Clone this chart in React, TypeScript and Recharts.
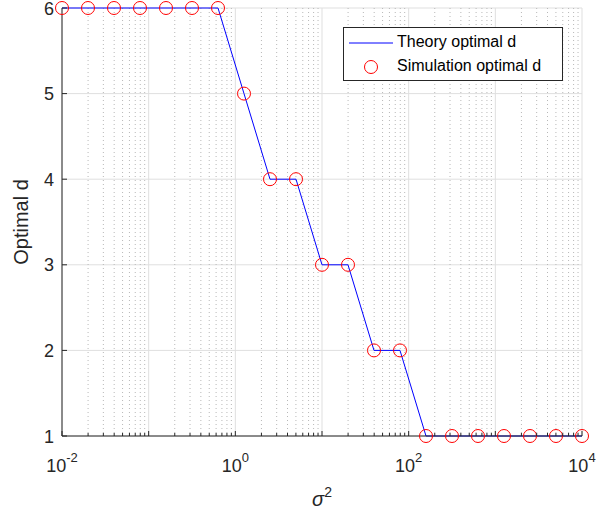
import React from 'react';
import { ComposedChart, Line, XAxis, YAxis, CartesianGrid } from 'recharts';

// sigma^2 sample points (logspace(-2, 4, 21))
const sigma2 = [
  0.01, 0.01995, 0.03981, 0.07943, 0.1585, 0.3162, 0.631, 1.259, 2.512, 5.012, 10,
  19.95, 39.81, 79.43, 158.5, 316.2, 631, 1259, 2512, 5012, 10000,
];
const theoryD = [6, 6, 6, 6, 6, 6, 6, 5, 4, 4, 3, 3, 2, 2, 1, 1, 1, 1, 1, 1, 1];
const simD = [6, 6, 6, 6, 6, 6, 6, 5, 4, 4, 3, 3, 2, 2, 1, 1, 1, 1, 1, 1, 1];

const xMajor = [0.01, 0.1, 1, 10, 100, 1000, 10000];
const xMinorMult = [2, 3, 4, 5, 6, 7, 8, 9];
const xMinor = xMajor.slice(0, -1).flatMap((d) => xMinorMult.map((m) => d * m));
const xAllTicks = [...xMajor, ...xMinor].sort((a, b) => a - b);
const yTicks = [1, 2, 3, 4, 5, 6];

const FONT = '"Liberation Sans", Arial, Helvetica, sans-serif';
const AXIS = '#262626';

const data = sigma2.map((x, i) => ({ x, theory: theoryD[i], sim: simD[i] }));

const isMajor = (v: number) => Math.abs(Math.log10(v) - Math.round(Math.log10(v))) < 1e-6;

const BottomTick = (props: any) => {
  const { x, y, payload } = props;
  const v = payload.value;
  const major = isMajor(v);
  const e = Math.round(Math.log10(v));
  return (
    <g>
      <line x1={x} x2={x} y1={y} y2={y - (major ? 5 : 3)} stroke={AXIS} strokeWidth={1} />
      {major && e % 2 === 0 && (
        <text x={x} y={y + 36} textAnchor="middle" fontSize={18} fontFamily={FONT} fill={AXIS}>
          10<tspan dy={-10} fontSize={13}>{e}</tspan>
        </text>
      )}
    </g>
  );
};

const TopTick = (props: any) => {
  const { x, y, payload } = props;
  const major = isMajor(payload.value);
  return <line x1={x} x2={x} y1={y} y2={y + (major ? 5 : 3)} stroke={AXIS} strokeWidth={1} />;
};

const LeftTick = (props: any) => {
  const { x, y, payload } = props;
  return (
    <g>
      <line x1={x} x2={x + 5} y1={y} y2={y} stroke={AXIS} strokeWidth={1} />
      <text x={x - 8} y={y + 6.5} textAnchor="end" fontSize={18} fontFamily={FONT} fill={AXIS}>
        {payload.value}
      </text>
    </g>
  );
};

const RightTick = (props: any) => {
  const { x, y } = props;
  return <line x1={x} x2={x - 5} y1={y} y2={y} stroke={AXIS} strokeWidth={1} />;
};

const XLabel = (props: any) => {
  const { viewBox } = props;
  const cx = viewBox.x + viewBox.width / 2;
  return (
    <text x={cx} y={viewBox.y + 70} textAnchor="middle" fontSize={20} fontFamily={FONT} fill={AXIS}>
      <tspan fontStyle="italic">σ</tspan>
      <tspan dy={-9} fontSize={14}>2</tspan>
    </text>
  );
};

const YLabel = (props: any) => {
  const { viewBox } = props;
  const cy = viewBox.y + viewBox.height / 2;
  const cx = 21;
  return (
    <text
      x={cx}
      y={cy}
      transform={`rotate(-90, ${cx}, ${cy})`}
      textAnchor="middle"
      dominantBaseline="central"
      fontSize={20}
      fontFamily={FONT}
      fill={AXIS}
    >
      Optimal d
    </text>
  );
};

const LegendBox = () => (
  <div
    style={{
      position: 'absolute',
      left: 343,
      top: 27,
      width: 218,
      height: 52,
      border: `1px solid ${AXIS}`,
      background: '#fff',
      fontFamily: FONT,
      fontSize: 16,
      color: '#000',
    }}
  >
    <svg width={50} height={52} style={{ position: 'absolute', left: 0, top: 0 }}>
      <line x1={5} x2={49} y1={15} y2={15} stroke="#0000ff" strokeWidth={1} />
      <circle cx={27} cy={39} r={6.5} fill="none" stroke="#ff0000" strokeWidth={1} />
    </svg>
    <div style={{ position: 'absolute', left: 53, top: 5, whiteSpace: 'nowrap' }}>Theory optimal d</div>
    <div style={{ position: 'absolute', left: 53, top: 29, whiteSpace: 'nowrap' }}>Simulation optimal d</div>
  </div>
);

export default function App() {
  return (
    <div style={{ position: 'absolute', left: 0, top: 0, width: 616, height: 512, background: '#fff' }}>
      <ComposedChart width={616} height={512} data={data} margin={{ top: 8, right: 34, left: 0, bottom: 0 }}>
        <CartesianGrid
          verticalValues={xMajor}
          horizontalValues={yTicks}
          stroke="#dfdfdf"
          strokeWidth={1}
        />
        <CartesianGrid
          verticalValues={xMinor}
          horizontal={false}
          stroke="#b8b8b8"
          strokeWidth={1}
          strokeDasharray="1 3"
        />
        <XAxis
          dataKey="x"
          type="number"
          scale="log"
          domain={[0.01, 10000]}
          ticks={xAllTicks}
          interval={0}
          height={76}
          tickSize={0}
          tickMargin={0}
          tick={<BottomTick />}
          axisLine={{ stroke: AXIS }}
          label={<XLabel />}
        />
        <XAxis
          xAxisId="top"
          orientation="top"
          dataKey="x"
          type="number"
          scale="log"
          domain={[0.01, 10000]}
          ticks={xAllTicks}
          interval={0}
          height={0}
          tickSize={0}
          tickMargin={0}
          tick={<TopTick />}
          axisLine={{ stroke: AXIS }}
        />
        <YAxis
          type="number"
          domain={[1, 6]}
          ticks={yTicks}
          interval={0}
          width={62}
          tickSize={0}
          tickMargin={0}
          tick={<LeftTick />}
          axisLine={{ stroke: AXIS }}
          label={<YLabel />}
        />
        <YAxis
          yAxisId="right"
          orientation="right"
          type="number"
          domain={[1, 6]}
          ticks={yTicks}
          interval={0}
          width={0}
          tickSize={0}
          tickMargin={0}
          tick={<RightTick />}
          axisLine={{ stroke: AXIS }}
        />
        <Line
          dataKey="theory"
          type="linear"
          stroke="#0000ff"
          strokeWidth={1}
          dot={false}
          activeDot={false}
          isAnimationActive={false}
        />
        <Line
          dataKey="sim"
          type="linear"
          stroke="none"
          dot={{ r: 6.5, stroke: '#ff0000', fill: 'none', strokeWidth: 1 }}
          activeDot={false}
          isAnimationActive={false}
        />
      </ComposedChart>
      <LegendBox />
    </div>
  );
}
